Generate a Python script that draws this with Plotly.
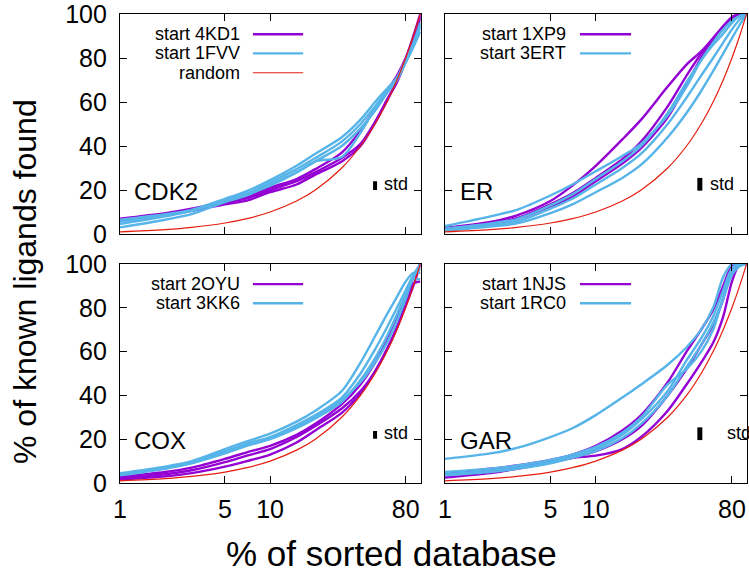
import plotly.graph_objects as go

# ---------------- data ----------------
pct = [1, 2, 3, 5, 7, 10, 15, 20, 30, 40, 50, 60, 70, 80, 90, 100]
random_found = [1, 2, 3, 5, 7, 10, 15, 20, 30, 40, 50, 60, 70, 80, 90, 100]

x_ticks = [1, 5, 10, 80]
x_ticktext = ["1", "5", "10", "80"]
y_ticks = [0, 20, 40, 60, 80, 100]

# CDK2
cdk2_4kd1_a = [7.0, 9.5, 11.5, 14.8, 17.0, 21.0, 25.0, 29.5, 37.0, 47.0, 57.0, 65.0, 72.0, 80.0, 90.0, 100]
cdk2_4kd1_b = [6.5, 9.0, 11.0, 14.2, 16.2, 20.0, 24.0, 28.0, 34.5, 41.0, 51.0, 61.0, 69.0, 79.0, 89.0, 99.0]
cdk2_4kd1_c = [6.0, 8.5, 10.5, 13.5, 15.2, 19.0, 22.5, 27.0, 33.0, 40.0, 50.5, 60.5, 69.5, 78.5, 88.0, 98.0]
cdk2_1fvv_a = [6.5, 9.0, 11.0, 16.0, 19.5, 24.5, 31.0, 36.5, 44.0, 52.0, 60.0, 66.0, 71.0, 78.0, 85.0, 92.0]
cdk2_1fvv_b = [4.5, 8.0, 10.5, 15.5, 18.5, 23.5, 29.5, 34.5, 42.0, 50.0, 58.0, 65.0, 71.0, 78.5, 86.0, 94.0]
cdk2_1fvv_c = [3.0, 6.5, 9.0, 14.5, 17.5, 22.5, 28.0, 33.0, 40.0, 48.0, 56.0, 64.0, 70.0, 78.0, 86.0, 95.0]
cdk2_1fvv_d = [5.5, 8.5, 10.5, 15.0, 18.0, 22.0, 28.0, 33.0, 35.0, 46.0, 57.0, 64.5, 71.0, 79.0, 87.0, 96.0]

# ER
er_1xp9_a = [2.8, 5.5, 8.5, 15.0, 22.0, 31.0, 43.0, 52.0, 67.0, 77.0, 83.0, 89.0, 94.5, 98.5, 100, 100]
er_1xp9_b = [2.5, 5.0, 7.2, 13.5, 18.5, 25.5, 34.0, 42.0, 58.0, 72.0, 82.0, 89.0, 94.0, 98.5, 100, 100]
er_1xp9_c = [2.0, 4.6, 6.8, 12.5, 17.0, 24.0, 32.0, 39.0, 53.0, 68.0, 80.0, 88.0, 94.0, 98.0, 100, 100]
er_3ert_a = [3.6, 8.0, 11.0, 17.5, 22.5, 28.5, 35.5, 41.0, 54.0, 67.0, 79.0, 87.0, 93.0, 97.0, 99.0, 100]
er_3ert_b = [2.4, 4.8, 6.8, 13.0, 18.0, 25.0, 33.0, 40.0, 55.0, 69.0, 79.0, 86.0, 91.0, 96.0, 99.0, 100]
er_3ert_c = [1.8, 4.0, 5.6, 11.5, 16.0, 22.5, 30.0, 36.5, 50.0, 62.0, 72.0, 80.0, 87.0, 93.0, 97.5, 100]
er_3ert_d = [1.5, 3.4, 4.8, 9.5, 13.5, 19.0, 25.5, 31.5, 44.0, 55.0, 65.0, 74.0, 82.0, 89.0, 95.0, 100]

# COX
cox_2oyu_a = [2.8, 5.0, 7.0, 11.0, 14.0, 17.0, 22.0, 27.0, 36.0, 45.0, 55.0, 65.0, 75.0, 85.0, 94.0, 100]
cox_2oyu_b = [2.2, 4.0, 5.8, 9.5, 12.5, 15.5, 21.0, 26.0, 34.0, 42.0, 51.0, 61.0, 71.0, 82.0, 91.0, 92.0]
cox_2oyu_c = [1.5, 3.0, 4.5, 7.5, 10.0, 13.0, 18.5, 24.0, 32.0, 41.0, 51.0, 61.0, 71.0, 81.0, 90.0, 100]
cox_3kk6_a = [4.5, 7.5, 10.0, 15.5, 19.0, 22.5, 28.0, 33.0, 42.0, 55.0, 67.0, 77.0, 85.0, 92.0, 96.0, 96.0]
cox_3kk6_b = [4.0, 7.0, 9.5, 14.5, 18.0, 21.0, 26.5, 31.0, 39.0, 50.0, 61.0, 71.0, 80.0, 88.0, 95.0, 100]
cox_3kk6_c = [3.5, 6.5, 9.0, 13.5, 17.0, 20.0, 25.0, 29.5, 37.0, 47.0, 57.0, 67.0, 77.0, 86.0, 93.0, 93.0]
cox_3kk6_d = [3.8, 6.8, 9.2, 14.0, 17.5, 20.5, 25.5, 30.0, 38.0, 46.0, 55.0, 64.0, 74.0, 84.0, 94.0, 98.0]

# GAR
gar_1njs_a = [4.5, 6.5, 8.0, 10.5, 13.0, 17.0, 24.0, 31.0, 46.0, 60.0, 70.0, 79.0, 90.0, 99.0, 100, 100]
gar_1njs_b = [3.5, 5.5, 7.0, 9.5, 11.5, 14.5, 20.0, 26.0, 40.0, 52.0, 63.0, 72.0, 84.0, 97.0, 100, 100]
gar_1njs_c = [2.5, 4.5, 6.5, 9.5, 11.5, 12.5, 15.5, 21.0, 33.0, 45.0, 55.0, 64.0, 76.0, 92.0, 100, 100]
gar_1rc0_a = [11.0, 13.5, 16.0, 21.0, 25.0, 31.0, 39.0, 45.0, 54.0, 62.0, 70.0, 80.0, 94.0, 100, 100, 100]
gar_1rc0_b = [5.0, 6.5, 8.0, 10.5, 13.0, 16.5, 23.0, 30.0, 45.0, 52.0, 60.0, 70.0, 85.0, 97.0, 100, 100]
gar_1rc0_c = [4.0, 5.5, 7.0, 9.5, 12.0, 15.5, 22.0, 29.0, 42.0, 56.0, 66.0, 76.0, 88.0, 98.0, 100, 100]
gar_1rc0_d = [3.5, 5.0, 6.5, 9.0, 11.5, 14.5, 20.5, 27.0, 40.0, 53.0, 63.0, 73.0, 84.0, 95.0, 99.0, 100]

panel_names = ["CDK2", "ER", "COX", "GAR"]
start_a = ["start 4KD1", "start 1XP9", "start 2OYU", "start 1NJS"]
start_b = ["start 1FVV", "start 3ERT", "start 3KK6", "start 1RC0"]
runs_a = [[cdk2_4kd1_a, cdk2_4kd1_b, cdk2_4kd1_c],
          [er_1xp9_a, er_1xp9_b, er_1xp9_c],
          [cox_2oyu_a, cox_2oyu_b, cox_2oyu_c],
          [gar_1njs_a, gar_1njs_b, gar_1njs_c]]
runs_b = [[cdk2_1fvv_a, cdk2_1fvv_b, cdk2_1fvv_c, cdk2_1fvv_d],
          [er_3ert_a, er_3ert_b, er_3ert_c, er_3ert_d],
          [cox_3kk6_a, cox_3kk6_b, cox_3kk6_c, cox_3kk6_d],
          [gar_1rc0_a, gar_1rc0_b, gar_1rc0_c, gar_1rc0_d]]

# std markers
std_x = [50, 49, 50, 49]
std_lo = [20.0, 19.7, 20.2, 19.6]
std_hi = [24.0, 25.5, 23.7, 25.4]
std_w = [4, 5, 4, 5]

# ---------------- styling ----------------
W, H = 749, 573
PURPLE = "#9400D3"
BLUE = "#56B4E9"
RED = "#E51E10"
FONT = "Liberation Sans, Arial, Helvetica, sans-serif"

# panel pixel boxes: (left, right, top, bottom)
boxes = [(120, 420.7, 14, 234), (445, 747, 14, 234),
         (120, 420.7, 264, 483), (445, 747, 264, 483)]

fig = go.Figure()
shapes = []
annotations = []

for i in range(4):
    ax = "" if i == 0 else str(i + 1)
    xr, yr = "x" + ax, "y" + ax
    for ys in runs_a[i]:
        fig.add_trace(go.Scatter(x=pct, y=ys, mode="lines", line=dict(color=PURPLE, width=2.4, shape="spline", smoothing=0.8),
                                 xaxis=xr, yaxis=yr, showlegend=False, hoverinfo="skip"))
    for ys in runs_b[i]:
        fig.add_trace(go.Scatter(x=pct, y=ys, mode="lines", line=dict(color=BLUE, width=2.4, shape="spline", smoothing=0.8),
                                 xaxis=xr, yaxis=yr, showlegend=False, hoverinfo="skip"))
    fig.add_trace(go.Scatter(x=pct, y=random_found, mode="lines", line=dict(color=RED, width=1.2, shape="spline"),
                             xaxis=xr, yaxis=yr, showlegend=False, hoverinfo="skip"))
    fig.add_trace(go.Scatter(x=[std_x[i], std_x[i]], y=[std_lo[i], std_hi[i]], mode="lines",
                             line=dict(color="black", width=std_w[i]), xaxis=xr, yaxis=yr,
                             showlegend=False, hoverinfo="skip"))

    l, r, t, b = boxes[i]
    fig.layout["xaxis" + ax] = dict(
        type="log", range=[0, 2.003], domain=[l / W, r / W], anchor=yr, automargin=False,
        tickvals=x_ticks, ticktext=x_ticktext, showticklabels=(i >= 2), ticklabeloverflow="allow",
        ticklabelstandoff=4,
        ticks="inside", ticklen=7, tickwidth=1, tickcolor="black",
        showline=True, linecolor="black", linewidth=1.2, mirror="ticks",
        showgrid=False, zeroline=False,
        tickfont=dict(family=FONT, size=25, color="black"))
    fig.layout["yaxis" + ax] = dict(
        range=[0, 100], domain=[1 - b / H, 1 - t / H], anchor=xr, automargin=False,
        tickvals=y_ticks, showticklabels=(i % 2 == 0), ticklabeloverflow="allow",
        ticklabelstandoff=7,
        ticks="inside", ticklen=7, tickwidth=1, tickcolor="black",
        showline=True, linecolor="black", linewidth=1.2, mirror="ticks",
        showgrid=False, zeroline=False,
        tickfont=dict(family=FONT, size=25, color="black"))

    xd, yd = xr + " domain", yr + " domain"
    right_col = i % 2 == 1
    txt_x = 0.406 if right_col else 0.405
    ln0, ln1 = (0.447, 0.616) if right_col else (0.442, 0.609)
    rows = [0.908, 0.821, 0.733]
    entries = [(start_a[i], PURPLE, 2.4), (start_b[i], BLUE, 2.4)]
    if i == 0:
        entries.append(("random", RED, 1.2))
    for (label, col, wdt), ry in zip(entries, rows):
        annotations.append(dict(text=label, xref=xd, yref=yd, x=txt_x, y=ry, xanchor="right", yanchor="middle",
                                showarrow=False, font=dict(family=FONT, size=18, color="black")))
        shapes.append(dict(type="line", xref=xd, yref=yd, x0=ln0, x1=ln1, y0=ry, y1=ry,
                           line=dict(color=col, width=wdt)))
    # panel name
    annotations.append(dict(text=panel_names[i], xref=xd, yref=yd, x=0.041 if not right_col else 0.044,
                            y=0.195, xanchor="left", yanchor="middle", showarrow=False,
                            font=dict(family=FONT, size=24, color="black")))
    # std label
    annotations.append(dict(text="std", xref=xd, yref=yd, x=0.927 if i == 3 else 0.870, y=0.227,
                            xanchor="left", yanchor="middle", showarrow=False,
                            font=dict(family=FONT, size=18, color="black")))

annotations.append(dict(text="% of sorted database", xref="paper", yref="paper", x=392 / W, y=1 - 553 / H,
                        xanchor="center", yanchor="middle", showarrow=False,
                        font=dict(family=FONT, size=35, color="black")))
annotations.append(dict(text="% of known ligands found", xref="paper", yref="paper", x=25 / W, y=1 - 282 / H,
                        xanchor="center", yanchor="middle", showarrow=False, textangle=-90,
                        font=dict(family=FONT, size=32, color="black")))

fig.update_layout(width=W, height=H, margin=dict(l=0, r=0, t=0, b=0),
                  paper_bgcolor="white", plot_bgcolor="white", showlegend=False,
                  shapes=shapes, annotations=annotations)

fig.write_html("out.html", config={"displayModeBar": False},
               post_script="document.body.style.margin='0';document.body.style.overflow='hidden';")
